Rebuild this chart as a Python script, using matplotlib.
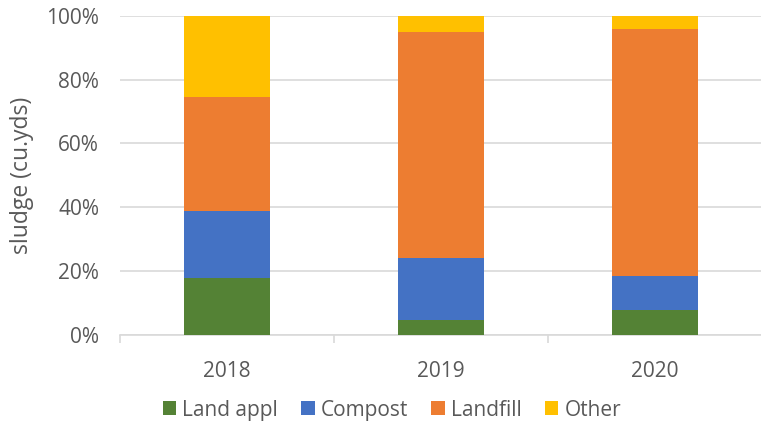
import matplotlib
matplotlib.use("Agg")
import matplotlib.pyplot as plt
import numpy as np
from matplotlib.ticker import PercentFormatter, FixedLocator

years = ["2018", "2019", "2020"]
land_appl = [17.8, 4.6, 7.8]
compost = [21.1, 19.6, 10.7]
landfill = [35.7, 70.6, 77.3]
other = [25.4, 5.2, 4.2]

series = [("Land appl", land_appl, "#548235"),
          ("Compost", compost, "#4472C4"),
          ("Landfill", landfill, "#ED7D31"),
          ("Other", other, "#FFC000")]

plt.rcParams['font.family'] = ['Open Sans', 'DejaVu Sans']
txt = "#595959"
fs = 15

fig = plt.figure(figsize=(7.61, 4.23), dpi=100)
ax = fig.add_axes([120/761, 88/423, 642/761, 319.3/423])

x = np.arange(len(years))
bottom = np.zeros(len(years))
handles = []
for name, vals, col in series:
    v = np.array(vals, dtype=float)
    h = ax.bar(x, v, width=0.40, bottom=bottom, color=col, label=name, zorder=3)
    handles.append(h)
    bottom += v

ax.set_xlim(-0.5, 2.5)
ax.set_ylim(0, 100)
ax.set_yticks(np.arange(0, 101, 20))
ax.yaxis.set_major_formatter(PercentFormatter(decimals=0))
ax.set_xticks(x)
ax.set_xticklabels(years)
ax.xaxis.set_minor_locator(FixedLocator([-0.5, 0.5, 1.5, 2.5]))
ax.tick_params(axis='x', which='major', length=0, pad=19, labelsize=fs, colors=txt)
ax.tick_params(axis='x', which='minor', length=6, color="#d9d9d9", width=1.2)
ax.tick_params(axis='y', length=0, pad=15, labelsize=fs, colors=txt)
ax.grid(axis='y', color="#d9d9d9", linewidth=1.2, zorder=0)
for s in ['top', 'right', 'left']:
    ax.spines[s].set_visible(False)
ax.spines['bottom'].set_color("#d9d9d9")
ax.spines['bottom'].set_linewidth(1.2)
ax.set_ylabel("sludge (cu.yds)", fontsize=16.5, color=txt)
ax.yaxis.set_label_coords(-(120 - 34) / 642, 0.5)

fig.legend(handles=handles, labels=[s[0] for s in series], loc='center',
           bbox_to_anchor=(0.515, 1 - 410/423), ncol=4, frameon=False,
           fontsize=fs, labelcolor=txt, handlelength=0.65, handleheight=0.65,
           handletextpad=0.3, columnspacing=1.1)

fig.savefig("out.png", dpi=100)
